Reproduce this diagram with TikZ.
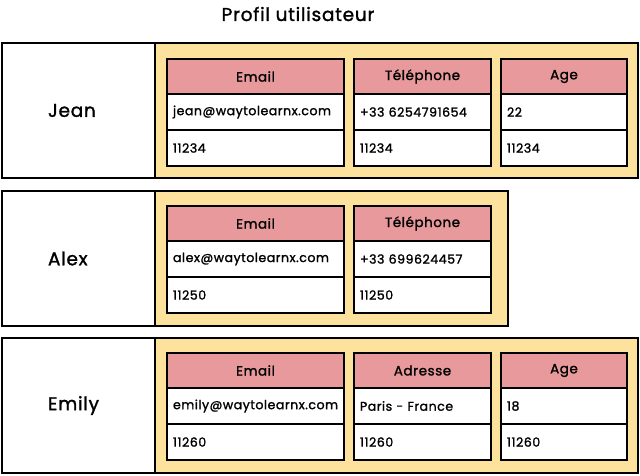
\documentclass[tikz,border=0pt]{standalone}
\usepackage{fontspec}
\setmainfont{Poppins}[LetterSpace=4, FakeBold=1.4]
\usetikzlibrary{positioning}
\definecolor{jaune}{HTML}{FDE29D}
\definecolor{rose}{HTML}{E8999B}
\tikzset{
  cadre/.style = {draw=black, line width=1.3pt, anchor=north west, inner sep=0pt, outer sep=0pt},
  nom/.style = {cadre, fill=white, minimum height=135pt, inner xsep=46pt, text width=61pt, align=left, font=\fontsize{18.5}{21}\selectfont},
  fond/.style = {cadre, fill=jaune, minimum height=135pt},
  entete/.style = {cadre, fill=rose, minimum height=35pt, align=center, font=\fontsize{13.5}{16}\selectfont},
  valeur/.style = {cadre, fill=white, minimum height=36pt, inner xsep=6pt, align=left, font=\fontsize{12.6}{15}\selectfont},
}
% une colonne : nom, x, y, largeur, entete, valeur, code
\newcommand{\champ}[7]{
  \node[entete, minimum width=#4pt] (#1-h) at (#2,#3) {#5};
  \node[valeur, text width=#4pt-12pt] (#1-v) at (#1-h.south west) {#6};
  \node[valeur, text width=#4pt-12pt] (#1-c) at (#1-v.south west) {#7};
}
\begin{document}
\begin{tikzpicture}[x=1pt, y=-1pt]
  \useasboundingbox (0,0) rectangle (640,475);
  \node[font=\fontsize{18.5}{21}\selectfont] (titre) at (298,14) {Profil utilisateur};

  % Jean
  \node[nom] (jean) at (2,43) {Jean};
  \node[fond, minimum width=483pt] (jean-fond) at (155,43) {};
  \champ{jean-mail}{167}{59}{177}{Email}{jean@waytolearnx.com}{11234}
  \champ{jean-tel}{354}{59}{137}{Téléphone}{+33 6254791654}{11234}
  \champ{jean-age}{501}{59}{126}{Age}{22}{11234}

  % Alex
  \node[nom] (alex) at (2,191) {Alex};
  \node[fond, minimum width=353pt] (alex-fond) at (155,191) {};
  \champ{alex-mail}{167}{206}{177}{Email}{alex@waytolearnx.com}{11250}
  \champ{alex-tel}{354}{206}{137}{Téléphone}{+33 699624457}{11250}

  % Emily
  \node[nom] (emily) at (2,338) {Emily};
  \node[fond, minimum width=483pt] (emily-fond) at (155,338) {};
  \champ{emily-mail}{167}{353}{177}{Email}{emily@waytolearnx.com}{11260}
  \champ{emily-adr}{354}{353}{137}{Adresse}{Paris - France}{11260}
  \champ{emily-age}{501}{353}{126}{Age}{18}{11260}
\end{tikzpicture}
\end{document}
